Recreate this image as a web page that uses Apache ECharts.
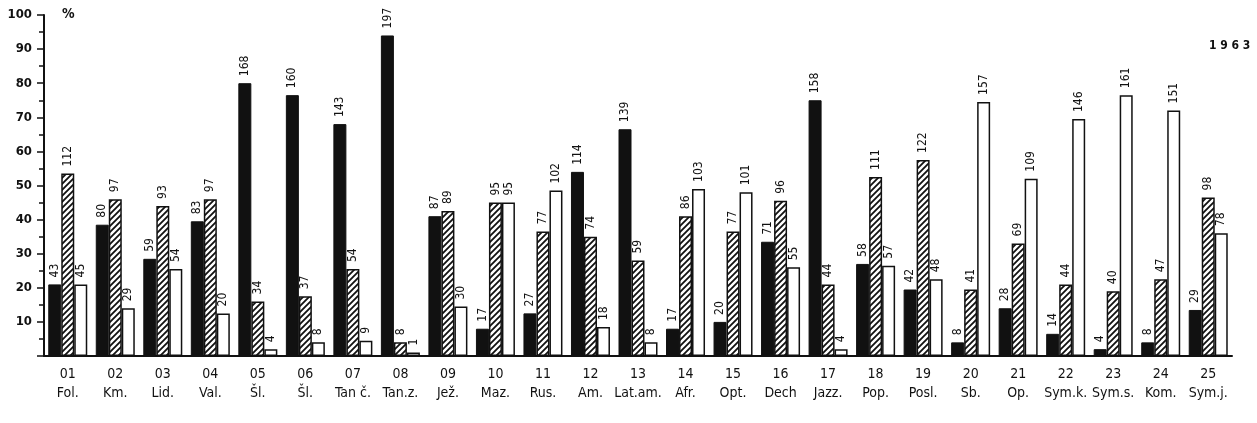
<!DOCTYPE html>
<html>
<head>
<meta charset="utf-8">
<script src="https://cdn.jsdelivr.net/npm/echarts@6/dist/echarts.min.js"></script>
<style>
  html, body { margin: 0; padding: 0; background: #fff; }
  #chart { width: 1257px; height: 423px; }
</style>
</head>
<body>
<div id="chart"></div>
<script>
// categories (two-line labels)
var codes = ['01','02','03','04','05','06','07','08','09','10','11','12','13','14','15','16','17','18','19','20','21','22','23','24','25'];
var names = ['Fol.','Km.','Lid.','Val.','Šl.','Šl.','Tan č.','Tan.z.','Jež.','Maz.','Rus.','Am.','Lat.am.','Afr.','Opt.','Dech','Jazz.','Pop.','Posl.','Sb.','Op.','Sym.k.','Sym.s.','Kom.','Sym.j.'];

// bar heights in %
var blackPct   = [21, 38.5, 28.5, 39.5, 80, 76.5, 68, 94, 41, 8, 12.5, 54, 66.5, 8, 10, 33.5, 75, 27, 19.5, 4, 14, 6.5, 2, 4, 13.5];
var hatchPct   = [53.5, 46, 44, 46, 16, 17.5, 25.5, 4, 42.5, 45, 36.5, 35, 28, 41, 36.5, 45.5, 21, 52.5, 57.5, 19.5, 33, 21, 19, 22.5, 46.5];
var whitePct   = [21, 14, 25.5, 12.5, 2, 4, 4.5, 1, 14.5, 45, 48.5, 8.5, 4, 49, 48, 26, 2, 26.5, 22.5, 74.5, 52, 69.5, 76.5, 72, 36];

// numbers written above the bars
var blackCount = [43, 80, 59, 83, 168, 160, 143, 197, 87, 17, 27, 114, 139, 17, 20, 71, 158, 58, 42, 8, 28, 14, 4, 8, 29];
var hatchCount = [112, 97, 93, 97, 34, 37, 54, 8, 89, 95, 77, 74, 59, 86, 77, 96, 44, 111, 122, 41, 69, 44, 40, 47, 98];
var whiteCount = [45, 29, 54, 20, 4, 8, 9, 1, 30, 95, 102, 18, 8, 103, 101, 55, 4, 57, 48, 157, 109, 146, 161, 151, 78];

var yTicks = [10, 20, 30, 40, 50, 60, 70, 80, 90, 100];

// diagonal hatch pattern
function hatch() {
    var c = document.createElement('canvas');
    c.width = 6; c.height = 6;
    var g = c.getContext('2d');
    g.fillStyle = '#fff';
    g.fillRect(0, 0, 6, 6);
    g.strokeStyle = '#111';
    g.lineWidth = 1.8;
    g.beginPath();
    g.moveTo(-1, 7); g.lineTo(7, -1);
    g.moveTo(-4, 4); g.lineTo(4, -4);
    g.moveTo(2, 10); g.lineTo(10, 2);
    g.stroke();
    return c;
}

var font = '"DejaVu Sans Condensed", "Liberation Sans Narrow", sans-serif';

function barLabel(counts) {
    return {
        show: true,
        position: 'top',
        rotate: 90,
        align: 'left',
        verticalAlign: 'middle',
        distance: 7,
        fontFamily: font,
        fontSize: 12,
        color: '#111',
        formatter: function (p) { return counts[p.dataIndex]; }
    };
}

var myChart = echarts.init(document.getElementById('chart'));
var option = {
    animation: false,
    backgroundColor: '#fff',
    grid: { left: 44, right: 25, top: 15, bottom: 67, containLabel: false },
    graphic: [
        { type: 'text', left: 62, top: 7, style: { text: '%', font: 'bold 14px ' + font, fill: '#111' } },
        { type: 'text', left: 1209, top: 40, style: { text: '1 9 6 3', font: 'bold 12px ' + font, fill: '#111' } }
    ],
    xAxis: {
        type: 'category',
        data: codes,
        axisLine: { lineStyle: { color: '#111', width: 2 } },
        axisTick: { show: false },
        axisLabel: {
            interval: 0,
            margin: 9,
            fontFamily: font,
            fontSize: 14,
            lineHeight: 19,
            color: '#111',
            formatter: function (v, i) { return v + '\n' + names[i]; }
        }
    },
    yAxis: {
        type: 'value',
        min: 0,
        max: 100,
        interval: 10,
        splitLine: { show: false },
        axisLine: { show: true, lineStyle: { color: '#111', width: 2 } },
        axisTick: { show: true, length: 7, lineStyle: { color: '#111', width: 1.5 } },
        minorTick: { show: true, splitNumber: 2, length: 5, lineStyle: { color: '#111', width: 1.5 } },
        axisLabel: {
            margin: 12,
            fontFamily: font,
            fontWeight: 'bold',
            fontSize: 13,
            color: '#111',
            formatter: function (v) { return yTicks.indexOf(v) >= 0 ? v : ''; }
        }
    },
    series: [
        {
            type: 'bar', data: blackPct, barWidth: 13, barGap: '0%',
            itemStyle: { color: '#111', borderColor: '#111', borderWidth: 1 },
            label: barLabel(blackCount)
        },
        {
            type: 'bar', data: hatchPct, barWidth: 13, barGap: '0%',
            itemStyle: { color: { image: hatch(), repeat: 'repeat' }, borderColor: '#111', borderWidth: 1.5 },
            label: barLabel(hatchCount)
        },
        {
            type: 'bar', data: whitePct, barWidth: 13, barGap: '0%',
            itemStyle: { color: '#fff', borderColor: '#111', borderWidth: 1.5 },
            label: barLabel(whiteCount)
        }
    ]
};
myChart.setOption(option);
</script>
</body>
</html>
